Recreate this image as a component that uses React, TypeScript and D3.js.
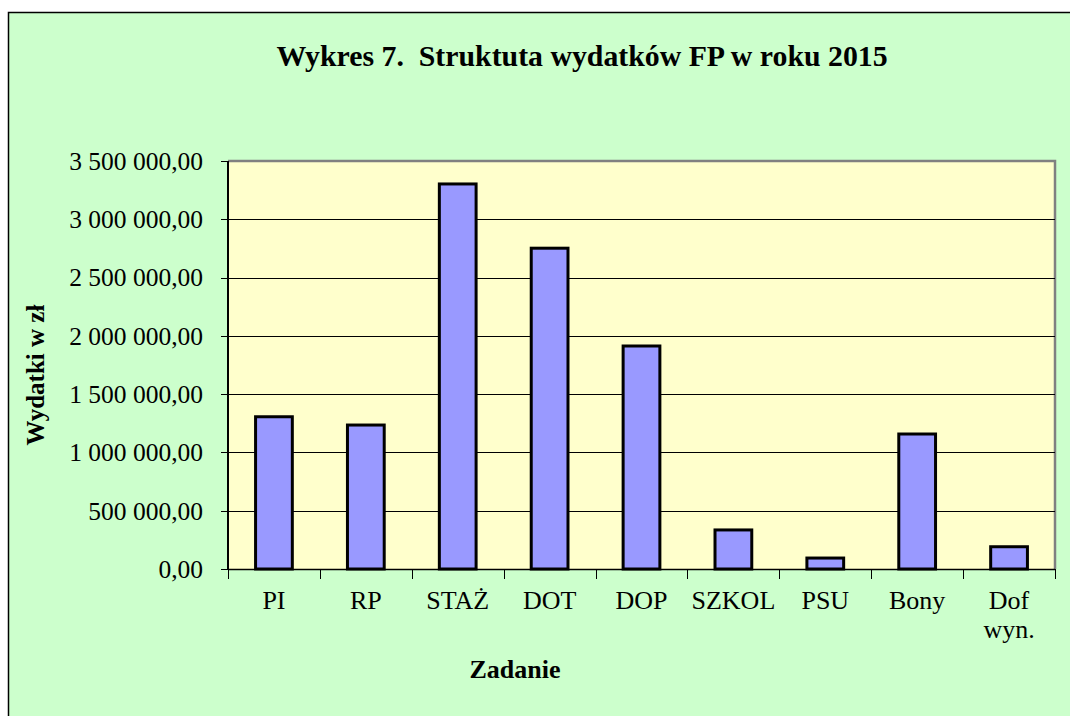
import React, { useEffect, useRef } from "react";
import * as d3 from "d3";

// categories and values (zł)
const categories = ["PI", "RP", "STAŻ", "DOT", "DOP", "SZKOL", "PSU", "Bony", "Dof\nwyn."];
const values = [1306000, 1235000, 3303000, 2752000, 1913000, 335000, 94000, 1158000, 191000];
const yTicks = [0, 500000, 1000000, 1500000, 2000000, 2500000, 3000000, 3500000];

const title = "Wykres 7.  Struktuta wydatków FP w roku 2015";
const xTitle = "Zadanie";
const yTitle = "Wydatki w zł";

const W = 1070;
const H = 716;
const FONT = "Liberation Serif";

const fmt = (v: number) => {
  const s = Math.round(v).toString().replace(/\B(?=(\d{3})+(?!\d))/g, " ");
  return s + ",00";
};

const App: React.FC = () => {
  const svgRef = useRef<SVGSVGElement | null>(null);

  useEffect(() => {
    if (!svgRef.current) return;
    const svg = d3.select(svgRef.current);
    svg.selectAll("*").remove();

    const plot = { left: 228, top: 161, right: 1055, bottom: 569 };

    // background + frame
    svg.append("rect").attr("x", 0).attr("y", 0).attr("width", W).attr("height", H).attr("fill", "#fff");
    svg
      .append("rect")
      .attr("x", 8.5)
      .attr("y", 12.5)
      .attr("width", W + 10)
      .attr("height", H + 10)
      .attr("fill", "#ccffcc")
      .attr("stroke", "#000")
      .attr("stroke-width", 1.5);

    const x = d3
      .scaleBand<string>()
      .domain(categories)
      .range([plot.left, plot.right])
      .paddingInner(0.6)
      .paddingOuter(0.3);
    const y = d3.scaleLinear().domain([0, 3500000]).range([plot.bottom, plot.top]);

    // plot area
    svg
      .append("rect")
      .attr("x", plot.left)
      .attr("y", plot.top)
      .attr("width", plot.right - plot.left)
      .attr("height", plot.bottom - plot.top)
      .attr("fill", "#ffffcc");
    // grey border top/right
    svg
      .append("path")
      .attr("d", `M${plot.left},${plot.top}H${plot.right}V${plot.bottom}`)
      .attr("fill", "none")
      .attr("stroke", "#808080")
      .attr("stroke-width", 2.5);

    // gridlines
    svg
      .append("g")
      .selectAll("line")
      .data(yTicks.filter((t) => t > 0 && t < 3500000))
      .join("line")
      .attr("x1", plot.left)
      .attr("x2", plot.right)
      .attr("y1", (d) => Math.round(y(d)) + 0.5)
      .attr("y2", (d) => Math.round(y(d)) + 0.5)
      .attr("stroke", "#000")
      .attr("stroke-width", 1);

    // bars
    svg
      .append("g")
      .selectAll("rect")
      .data(values)
      .join("rect")
      .attr("x", (_, i) => x(categories[i])!)
      .attr("y", (d) => y(d))
      .attr("width", x.bandwidth())
      .attr("height", (d) => y(0) - y(d))
      .attr("fill", "#9999ff")
      .attr("stroke", "#000")
      .attr("stroke-width", 3);

    // y axis
    const yAxis = svg.append("g").attr("transform", `translate(${plot.left},0)`);
    yAxis
      .append("line")
      .attr("x1", 0)
      .attr("x2", 0)
      .attr("y1", plot.top)
      .attr("y2", plot.bottom)
      .attr("stroke", "#000")
      .attr("stroke-width", 2);
    yAxis
      .selectAll("line.tick")
      .data(yTicks)
      .join("line")
      .attr("class", "tick")
      .attr("x1", -7)
      .attr("x2", 0)
      .attr("y1", (d) => Math.round(y(d)) + 0.5)
      .attr("y2", (d) => Math.round(y(d)) + 0.5)
      .attr("stroke", "#000");
    yAxis
      .selectAll("text")
      .data(yTicks)
      .join("text")
      .attr("x", -25)
      .attr("y", (d) => y(d))
      .attr("dy", "0.35em")
      .attr("text-anchor", "end")
      .attr("font-family", FONT)
      .attr("font-size", 25.5)
      .text((d) => fmt(d));

    // x axis
    const xAxis = svg.append("g");
    xAxis
      .append("line")
      .attr("x1", plot.left)
      .attr("x2", plot.right)
      .attr("y1", plot.bottom + 0.5)
      .attr("y2", plot.bottom + 0.5)
      .attr("stroke", "#000")
      .attr("stroke-width", 1.5);
    const step = x.step();
    xAxis
      .selectAll("line.tick")
      .data(d3.range(categories.length + 1))
      .join("line")
      .attr("class", "tick")
      .attr("x1", (i) => Math.round(plot.left + i * step) + 0.5)
      .attr("x2", (i) => Math.round(plot.left + i * step) + 0.5)
      .attr("y1", plot.bottom)
      .attr("y2", plot.bottom + 10)
      .attr("stroke", "#000");
    xAxis
      .selectAll("text")
      .data(categories)
      .join("text")
      .attr("x", (d) => x(d)! + x.bandwidth() / 2)
      .attr("y", 609)
      .attr("text-anchor", "middle")
      .attr("font-family", FONT)
      .attr("font-size", 26)
      .each(function (d) {
        const t = d3.select(this);
        d.split("\n").forEach((line, i) => {
          t.append("tspan")
            .attr("x", x(d)! + x.bandwidth() / 2)
            .attr("dy", i === 0 ? 0 : 29)
            .text(line);
        });
      });

    // titles
    svg
      .append("text")
      .attr("x", 582)
      .attr("y", 66)
      .attr("text-anchor", "middle")
      .attr("font-family", FONT)
      .attr("font-weight", "bold")
      .attr("font-size", 29.8)
      .style("white-space", "pre")
      .text(title);
    svg
      .append("text")
      .attr("x", 515)
      .attr("y", 678)
      .attr("text-anchor", "middle")
      .attr("font-family", FONT)
      .attr("font-weight", "bold")
      .attr("font-size", 26)
      .text(xTitle);
    svg
      .append("text")
      .attr("transform", "translate(44,375) rotate(-90)")
      .attr("text-anchor", "middle")
      .attr("font-family", FONT)
      .attr("font-weight", "bold")
      .attr("font-size", 25)
      .text(yTitle);
  }, []);

  return (
    <svg
      ref={svgRef}
      width={W}
      height={H}
      style={{ position: "absolute", left: 0, top: 0, display: "block" }}
    />
  );
};

export default App;
